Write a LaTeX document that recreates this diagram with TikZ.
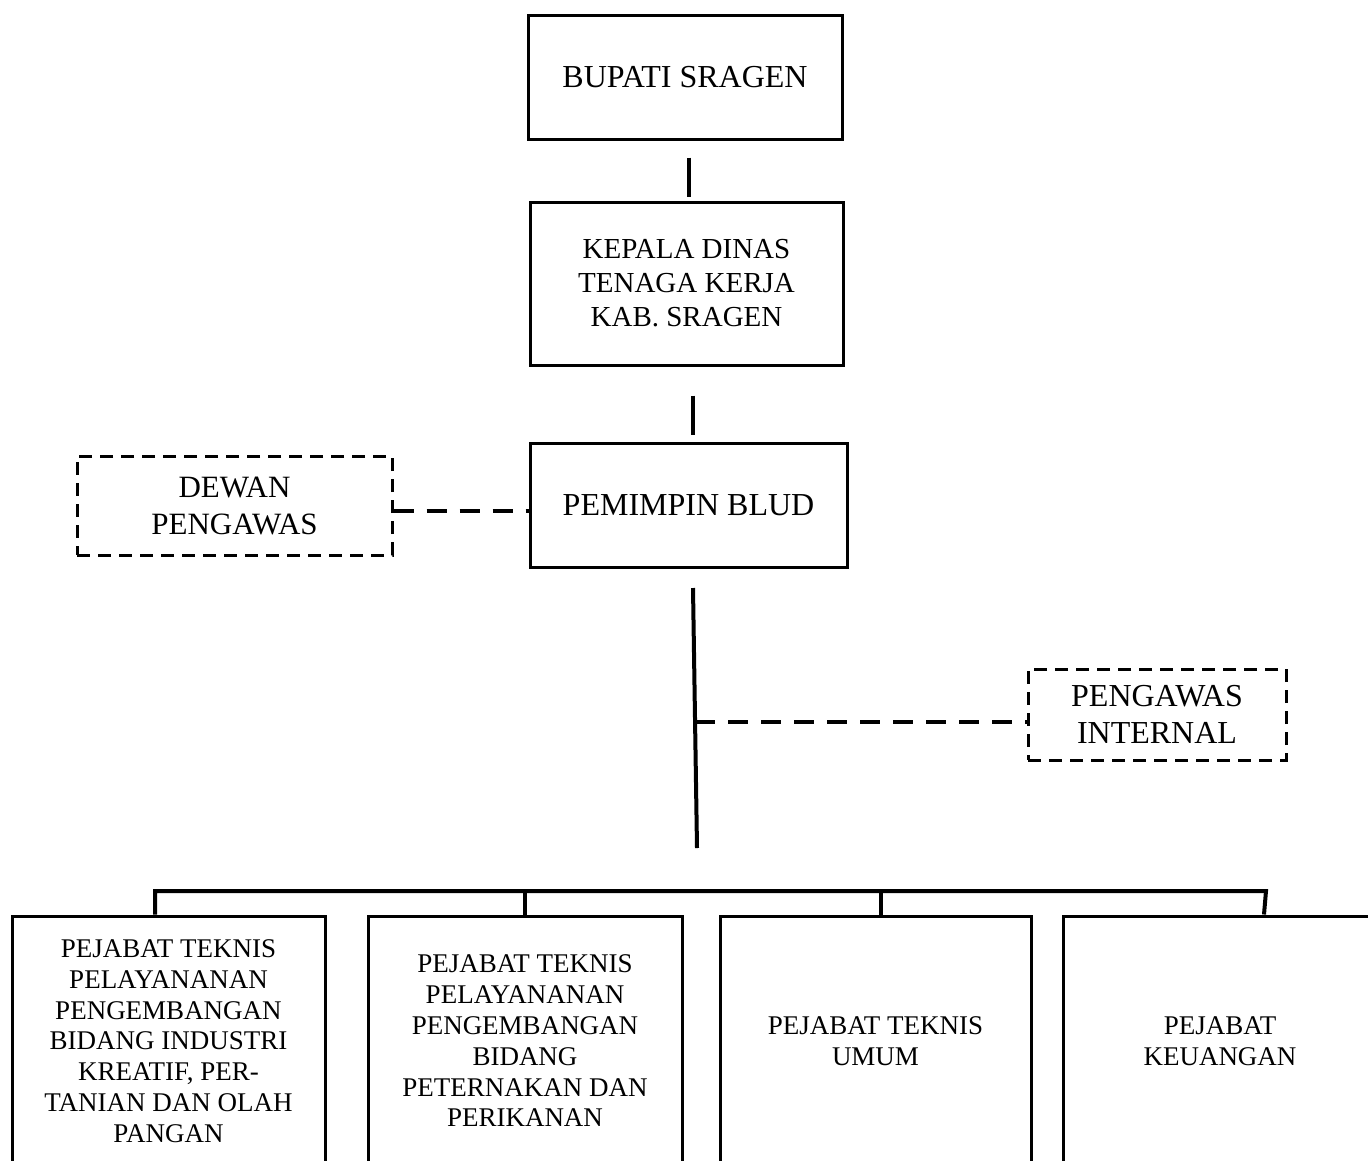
\documentclass[tikz,border=0pt]{standalone}
\usepackage{fontspec}
\setmainfont{Liberation Serif}
\begin{document}
\begin{tikzpicture}[x=1pt,y=-1pt,
  box/.style={draw, line width=3pt, inner sep=0pt, align=center, anchor=center},
  dbox/.style={box, dash pattern=on 13pt off 8pt},
  conn/.style={line width=4pt},
  dconn/.style={line width=4pt, dash pattern=on 20pt off 13pt},
  fbig/.style={font=\fontsize{32}{36.8}\selectfont},
  fmid/.style={font=\fontsize{29}{34}\selectfont},
  fsmall/.style={font=\fontsize{27}{30.8}\selectfont}]
\path[use as bounding box] (0,0) rectangle (1368,1160);
\clip (0,0) rectangle (1368,1160);
\fill[white] (0,0) rectangle (1368,1160);

\node[box, fbig, minimum width=314pt, minimum height=124pt] (bupati) at (685,77) {BUPATI SRAGEN};
\node[box, fmid, minimum width=313pt, minimum height=163pt] (kepala) at (686.5,283.5) {KEPALA DINAS\\TENAGA KERJA\\KAB. SRAGEN};
\node[box, fbig, minimum width=317pt, minimum height=124pt] (pemimpin) at (688.5,505) {PEMIMPIN BLUD};
\node[dbox, font=\fontsize{31}{37}\selectfont, minimum width=315pt, minimum height=99pt] (dewan) at (234.5,505.5) {DEWAN\\PENGAWAS};
\node[dbox, font=\fontsize{32}{37}\selectfont, minimum width=258pt, minimum height=91pt] (pint) at (1157,714.5) {PENGAWAS\\INTERNAL};

\node[box, fsmall, minimum width=313pt, minimum height=250pt] (b1) at (168.5,1041) {PEJABAT TEKNIS\\PELAYANANAN\\PENGEMBANGAN\\BIDANG INDUSTRI\\KREATIF, PER-\\TANIAN DAN OLAH\\PANGAN};
\node[box, fsmall, minimum width=314pt, minimum height=250pt] (b2) at (525,1041) {PEJABAT TEKNIS\\PELAYANANAN\\PENGEMBANGAN\\BIDANG\\PETERNAKAN DAN\\PERIKANAN};
\node[box, fsmall, minimum width=311pt, minimum height=250pt] (b3) at (875.5,1041) {PEJABAT TEKNIS\\UMUM};
\node[box, fsmall, minimum width=314pt, minimum height=250pt] (b4) at (1220,1041) {PEJABAT\\KEUANGAN};

% vertical connectors with gaps
\draw[conn] ([xshift=4pt,yshift=-17pt]bupati.south) -- ([xshift=2.5pt,yshift=4pt]kepala.north);
\draw[conn] ([xshift=6.5pt,yshift=-29pt]kepala.south) -- ([xshift=4.5pt,yshift=7pt]pemimpin.north);

% long vertical line under PEMIMPIN
\coordinate (vtop) at (693,588);
\coordinate (vbot) at (697,848);
\coordinate (vmid) at (695,722);
\draw[conn] (vtop) -- (vbot);

% dashed connectors
\draw[dconn] ([yshift=-5.5pt]dewan.east) -- ([yshift=-6pt]pemimpin.west);
\draw[dconn] (vmid) -- ([yshift=-7.5pt]pint.west);

% bus
\coordinate (d1) at (155,891);
\coordinate (d2) at (525,891);
\coordinate (d3) at (881,891);
\coordinate (d4) at (1266,891);
\draw[conn, line join=miter] (d1 |- b1.north) -- (d1) -- (d4) -- ([xshift=-2pt]d4 |- b4.north);
\draw[conn] (d2) -- (d2 |- b2.north);
\draw[conn] (d3) -- (d3 |- b3.north);
\end{tikzpicture}
\end{document}
